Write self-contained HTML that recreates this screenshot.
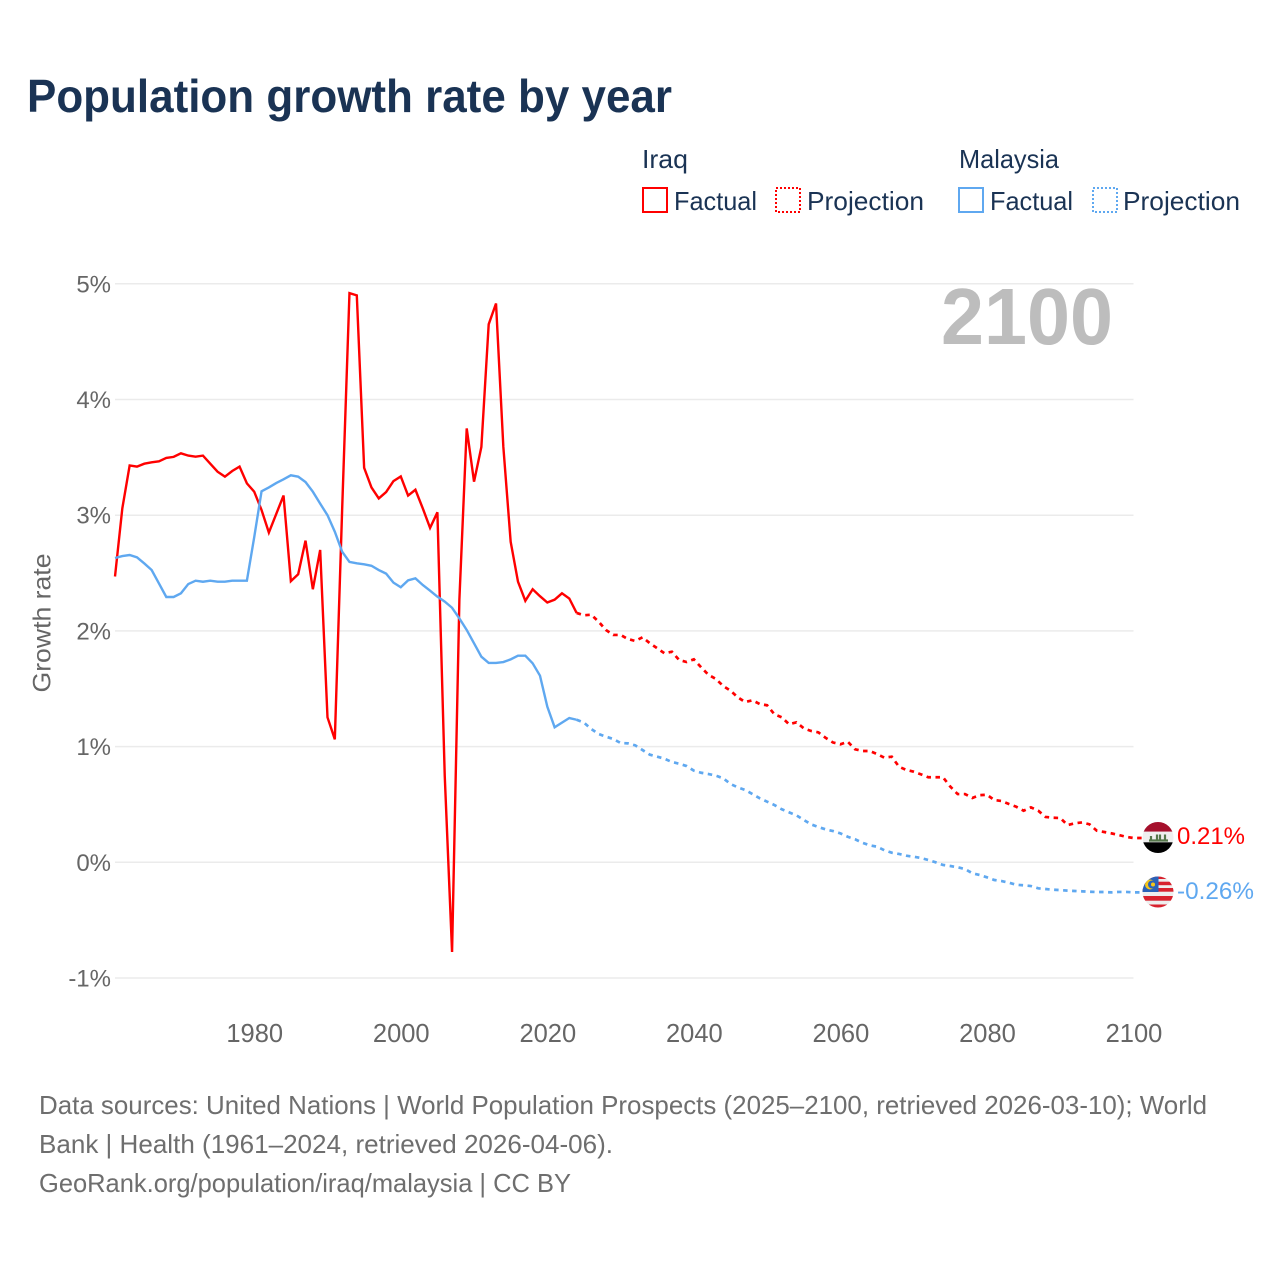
<!DOCTYPE html>
<html lang="en">
<head>
<meta charset="utf-8">
<title>Population growth rate by year</title>
<style>
  html, body { margin: 0; padding: 0; background: #fff; }
  svg { display: block; font-family: "Liberation Sans", sans-serif; }
</style>
</head>
<body>
<svg id="chart" xmlns="http://www.w3.org/2000/svg" width="1280" height="1280" viewBox="0 0 1280 1280">
  <rect x="0" y="0" width="1280" height="1280" fill="#fff"/>
  <text x="27" y="112" font-size="46" font-weight="700" fill="#1a3354" textLength="645" lengthAdjust="spacingAndGlyphs">Population growth rate by year</text>

  <g font-size="26" fill="#1a3354">
    <text x="642" y="168" textLength="46" lengthAdjust="spacingAndGlyphs">Iraq</text>
    <rect x="643" y="188" width="24" height="24" fill="none" stroke="#ff0000" stroke-width="2"/>
    <text x="674" y="210" textLength="83" lengthAdjust="spacingAndGlyphs">Factual</text>
    <rect x="776" y="188" width="24" height="24" fill="none" stroke="#ff0000" stroke-width="2" stroke-dasharray="2 2"/>
    <text x="807" y="210" textLength="117" lengthAdjust="spacingAndGlyphs">Projection</text>
    <text x="959" y="168" textLength="100" lengthAdjust="spacingAndGlyphs">Malaysia</text>
    <rect x="959" y="188" width="24" height="24" fill="none" stroke="#5fa8f0" stroke-width="2"/>
    <text x="990" y="210" textLength="83" lengthAdjust="spacingAndGlyphs">Factual</text>
    <rect x="1093" y="188" width="24" height="24" fill="none" stroke="#5fa8f0" stroke-width="2" stroke-dasharray="2 2"/>
    <text x="1123" y="210" textLength="117" lengthAdjust="spacingAndGlyphs">Projection</text>
  </g>

  <g id="grid"></g>
  <g id="yticks"></g>
  <g id="xticks"></g>
  <text transform="translate(50.5 623) rotate(-90)" text-anchor="middle" font-size="25" fill="#666" textLength="139" lengthAdjust="spacingAndGlyphs">Growth rate</text>
  <text x="941" y="344" font-size="80" font-weight="700" fill="#bdbdbd" textLength="172" lengthAdjust="spacingAndGlyphs">2100</text>

  <g id="series"></g>

  <defs>
    <clipPath id="clip-iraq"><circle cx="1158" cy="837.5" r="15.5"/></clipPath>
    <clipPath id="clip-malaysia"><circle cx="1158" cy="892" r="15.5"/></clipPath>
  </defs>
  <g clip-path="url(#clip-iraq)">
    <rect x="1142" y="821" width="32" height="10.7" fill="#a5102c"/>
    <rect x="1142" y="831.7" width="32" height="10.6" fill="#efefef"/>
    <rect x="1142" y="842.3" width="32" height="11" fill="#000"/>
    <path d="M1149 840.5h19M1151 836v5M1157 834.5v6M1160 834.5v6M1165 834.5v6" stroke="#55774a" stroke-width="2.2" fill="none"/>
  </g>
  <g clip-path="url(#clip-malaysia)">
    <rect x="1142" y="876" width="32" height="32" fill="#eeeeee"/>
    <rect x="1142" y="876" width="32" height="3" fill="#d8222e"/>
    <rect x="1142" y="881.7" width="32" height="3.5" fill="#d8222e"/>
    <rect x="1142" y="888" width="32" height="3.7" fill="#d8222e"/>
    <rect x="1142" y="896" width="32" height="4.7" fill="#d8222e"/>
    <rect x="1142" y="904.5" width="32" height="3.5" fill="#d8222e"/>
    <rect x="1142" y="876" width="16.5" height="16" fill="#2a62b8"/>
    <circle cx="1150" cy="884.5" r="5" fill="#f5c518"/>
    <circle cx="1152" cy="884.5" r="4" fill="#2a62b8"/>
    <circle cx="1153" cy="884.5" r="2" fill="#f5c518"/>
  </g>
  <text x="1177" y="844" font-size="24.5" fill="#ff0000" textLength="68" lengthAdjust="spacingAndGlyphs">0.21%</text>
  <text x="1177" y="899" font-size="24.5" fill="#5fa8f0" textLength="77" lengthAdjust="spacingAndGlyphs">-0.26%</text>

  <g font-size="26" fill="#6e6e6e">
    <text x="39" y="1114" textLength="1168" lengthAdjust="spacingAndGlyphs">Data sources: United Nations | World Population Prospects (2025–2100, retrieved 2026-03-10); World</text>
    <text x="39" y="1153" textLength="574" lengthAdjust="spacingAndGlyphs">Bank | Health (1961–2024, retrieved 2026-04-06).</text>
    <text x="39" y="1192" textLength="532" lengthAdjust="spacingAndGlyphs">GeoRank.org/population/iraq/malaysia | CC BY</text>
  </g>
</svg>
<script>
const factualStartYear = 1961;
const projectionStartYear = 2024;
const yTickValues = [5, 4, 3, 2, 1, 0, -1];
const yTickLabels = ["5%", "4%", "3%", "2%", "1%", "0%", "-1%"];
const xTickValues = [1980, 2000, 2020, 2040, 2060, 2080, 2100];
const xTickLabels = ["1980", "2000", "2020", "2040", "2060", "2080", "2100"];

const iraqFactual = [2.47, 3.06, 3.43, 3.42, 3.445, 3.457, 3.466, 3.495, 3.504, 3.535,
  3.515, 3.506, 3.515, 3.445, 3.376, 3.333, 3.382, 3.42, 3.275, 3.203,
  3.045, 2.85, 3.01, 3.17, 2.43, 2.49, 2.78, 2.36, 2.70, 1.253,
  1.063, 3.05, 4.92, 4.90, 3.41, 3.24, 3.145, 3.20, 3.295, 3.335,
  3.17, 3.22, 3.06, 2.89, 3.025, 0.75, -0.775, 2.27, 3.75, 3.29,
  3.59, 4.65, 4.83, 3.59, 2.77, 2.425, 2.26, 2.36, 2.30, 2.245,
  2.27, 2.325, 2.28, 2.155];

const iraqProjection = [2.155, 2.135, 2.14, 2.08, 2.008, 1.965, 1.965, 1.93, 1.913, 1.945,
  1.893, 1.85, 1.806, 1.82, 1.748, 1.731, 1.754, 1.685, 1.62, 1.585,
  1.524, 1.483, 1.426, 1.385, 1.40, 1.368, 1.357, 1.279, 1.253, 1.193,
  1.21, 1.158, 1.135, 1.123, 1.075, 1.035, 1.02, 1.042, 0.977, 0.962,
  0.962, 0.936, 0.904, 0.913, 0.826, 0.798, 0.783, 0.76, 0.735, 0.735,
  0.735, 0.654, 0.59, 0.59, 0.556, 0.58, 0.584, 0.538, 0.53, 0.504,
  0.48, 0.446, 0.475, 0.446, 0.392, 0.385, 0.383, 0.322, 0.337, 0.345,
  0.328, 0.273, 0.262, 0.25, 0.236, 0.22, 0.21];

const malaysiaFactual = [2.63, 2.647, 2.656, 2.636, 2.583, 2.526, 2.41, 2.293, 2.293, 2.325,
  2.405, 2.434, 2.425, 2.434, 2.425, 2.425, 2.434, 2.434, 2.434, 2.81,
  3.207, 3.24, 3.278, 3.31, 3.345, 3.333, 3.287, 3.203, 3.10, 3.0,
  2.857, 2.685, 2.596, 2.584, 2.575, 2.563, 2.526, 2.495, 2.417, 2.377,
  2.437, 2.454, 2.397, 2.348, 2.296, 2.253, 2.20, 2.108, 2.008, 1.893,
  1.777, 1.723, 1.723, 1.731, 1.754, 1.786, 1.786, 1.72, 1.613, 1.345,
  1.167, 1.207, 1.247, 1.232];

const malaysiaProjection = [1.232, 1.207, 1.152, 1.109, 1.086, 1.066, 1.031, 1.028, 1.011, 0.97,
  0.93, 0.913, 0.895, 0.867, 0.852, 0.832, 0.792, 0.774, 0.763, 0.749,
  0.726, 0.677, 0.648, 0.625, 0.59, 0.553, 0.524, 0.495, 0.458, 0.432,
  0.406, 0.366, 0.328, 0.305, 0.284, 0.27, 0.25, 0.221, 0.199, 0.169,
  0.147, 0.135, 0.104, 0.083, 0.072, 0.057, 0.048, 0.037, 0.02, 0,
  -0.023, -0.032, -0.043, -0.058, -0.095, -0.11, -0.13, -0.153, -0.162, -0.176,
  -0.194, -0.199, -0.205, -0.225, -0.231, -0.237, -0.24, -0.245, -0.248, -0.251,
  -0.254, -0.257, -0.257, -0.26, -0.256, -0.256, -0.26];

const SVG_NS = "http://www.w3.org/2000/svg";
const plotLeft = 115, plotRight = 1133.5;
const xMin = 1961, xMax = 2100;
function xScale(year) {
  return plotLeft + (year - xMin) * (plotRight - plotLeft) / (xMax - xMin);
}
function yScale(value) {
  return 862.3 - value * 115.7;
}
function linePath(values, startYear) {
  return values.map(function (v, i) {
    return (i ? "L" : "M") + xScale(startYear + i).toFixed(2) + " " + yScale(v).toFixed(2);
  }).join("");
}

const gridLayer = document.getElementById("grid");
const yTickLayer = document.getElementById("yticks");
const xTickLayer = document.getElementById("xticks");
const seriesLayer = document.getElementById("series");

yTickValues.forEach(function (v, i) {
  const gridLine = document.createElementNS(SVG_NS, "line");
  
  
  gridLine.setAttribute("x1", plotLeft);
  gridLine.setAttribute("x2", plotRight);
  gridLine.setAttribute("y1", yScale(v));
  gridLine.setAttribute("y2", yScale(v));
  gridLine.setAttribute("stroke", "#ebebeb");
  gridLine.setAttribute("stroke-width", "1.5");
  gridLayer.appendChild(gridLine);

  const label = document.createElementNS(SVG_NS, "text");
  
  
  label.setAttribute("x", 111);
  label.setAttribute("y", yScale(v) + 8.5);
  label.setAttribute("text-anchor", "end");
  label.setAttribute("font-size", "24");
  label.setAttribute("fill", "#666");
  label.textContent = yTickLabels[i];
  yTickLayer.appendChild(label);
});

xTickValues.forEach(function (year, i) {
  const label = document.createElementNS(SVG_NS, "text");
  
  
  label.setAttribute("x", xScale(year) + 0.5);
  label.setAttribute("y", 1042);
  label.setAttribute("text-anchor", "middle");
  label.setAttribute("font-size", "25.5");
  label.setAttribute("fill", "#666");
  label.textContent = xTickLabels[i];
  xTickLayer.appendChild(label);
});

function drawSeries(values, startYear, color, dashed, name) {
  const path = document.createElementNS(SVG_NS, "path");
  
  
  let d = linePath(values, startYear);
  if (dashed) {
    d += "L1144 " + yScale(values[values.length - 1]).toFixed(2);
    path.setAttribute("stroke-dasharray", "4.5 4.5");
  }
  path.setAttribute("d", d);
  path.setAttribute("fill", "none");
  path.setAttribute("stroke", color);
  path.setAttribute("stroke-width", dashed ? "2.7" : "2.4");
  path.setAttribute("stroke-linejoin", "miter");
  seriesLayer.appendChild(path);
}

drawSeries(iraqProjection, projectionStartYear, "#ff0000", true, "iraq-projection-line");
drawSeries(malaysiaProjection, projectionStartYear, "#5fa8f0", true, "malaysia-projection-line");
drawSeries(iraqFactual, factualStartYear, "#ff0000", false, "iraq-factual-line");
drawSeries(malaysiaFactual, factualStartYear, "#5fa8f0", false, "malaysia-factual-line");
</script>
</body>
</html>
